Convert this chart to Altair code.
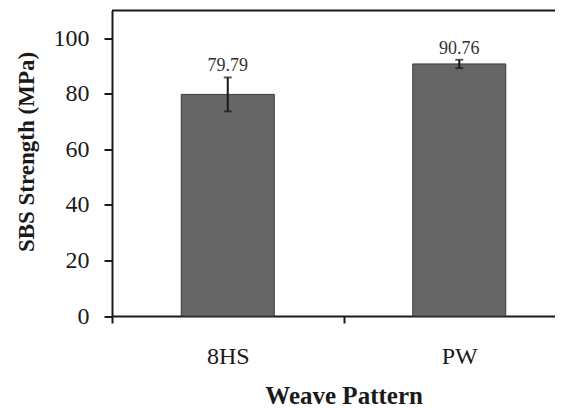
import altair as alt
import pandas as pd

categories = ["8HS", "PW"]
means = [79.79, 90.76]
errors = [6.1, 1.5]
y_ticks = [0, 20, 40, 60, 80, 100]

df = pd.DataFrame({
    "cat": categories,
    "mean": means,
    "err": errors,
})
df["lo"] = df["mean"] - df["err"]
df["hi"] = df["mean"] + df["err"]

SERIF = "Liberation Serif"
INK = "#1a1a1a"

x_enc = alt.X(
    "cat:N",
    sort=categories,
    scale=alt.Scale(range=[0, 463], paddingInner=0, paddingOuter=0),
    axis=alt.Axis(
        orient="bottom",
        domainColor=INK, domainWidth=2,
        tickBand="extent", tickSize=7, tickWidth=2, tickColor=INK,
        labelFont=SERIF, labelFontSize=24, labelColor=INK,
        labelBaseline="alphabetic", labelPadding=40, labelAngle=0,
        title="Weave Pattern", titleFont=SERIF, titleFontSize=25,
        titleFontWeight="bold", titleColor=INK,
        titleX=231.6, titleY=87, titleAlign="center",
        titleBaseline="alphabetic", grid=False,
    ),
)

y_scale = alt.Scale(domain=[0, 110], nice=False, zero=True)
y_axis = alt.Axis(
    values=y_ticks,
    domainColor=INK, domainWidth=2,
    tickSize=8, tickWidth=2, tickColor=INK,
    labelFont=SERIF, labelFontSize=24, labelColor=INK, labelPadding=15,
    title="SBS Strength (MPa)", titleFont=SERIF, titleFontSize=23,
    titleFontWeight="bold", titleColor=INK,
    titleX=-85.5, titleY=141, titleAlign="center", titleBaseline="middle",
    titleAngle=270, grid=False,
)

base = alt.Chart(df).encode(x=x_enc)

bars = base.mark_bar(size=93, fill="#666666", stroke="#3a3a3a", strokeWidth=1).encode(
    y=alt.Y("mean:Q", scale=y_scale, axis=y_axis)
)

err_rule = base.mark_rule(strokeWidth=2, color=INK).encode(
    y=alt.Y("lo:Q", scale=y_scale), y2="hi:Q"
)
cap_lo = base.mark_tick(size=8, thickness=2, color=INK).encode(y=alt.Y("lo:Q", scale=y_scale))
cap_hi = base.mark_tick(size=8, thickness=2, color=INK).encode(y=alt.Y("hi:Q", scale=y_scale))

labels = base.mark_text(
    dy=-6, baseline="alphabetic", font=SERIF, fontSize=18, color="#333333"
).encode(y=alt.Y("hi:Q", scale=y_scale), text=alt.Text("mean:Q", format=".2f"))

top_line = alt.Chart(alt.Data(values=[{"a": 1}])).mark_rule(
    color=INK, strokeWidth=2, orient="horizontal"
).encode(x=alt.value(0), x2=alt.value(470), y=alt.value(0))

chart = alt.layer(bars, err_rule, cap_lo, cap_hi, labels, top_line).properties(
    width=443,
    height=305.5,
    padding={"left": 104, "top": 2.5, "right": 0, "bottom": 102},
    autosize=alt.AutoSizeParams(type="none"),
    background="white",
).configure_view(strokeWidth=0, stroke="transparent")

chart.save("out.html", embed_options={"renderer": "svg", "actions": False})
